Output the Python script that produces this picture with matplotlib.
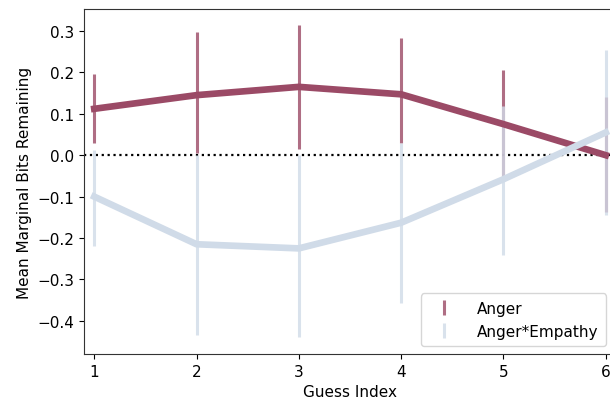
import matplotlib
matplotlib.use("Agg")
import matplotlib.pyplot as plt
import numpy as np

guess = [1, 2, 3, 4, 5, 6]
anger_mean = [0.112, 0.145, 0.165, 0.147, 0.075, 0.000]
anger_low = [0.030, 0.005, 0.015, 0.030, -0.055, -0.138]
anger_high = [0.197, 0.298, 0.315, 0.283, 0.205, 0.140]
emp_mean = [-0.100, -0.215, -0.225, -0.163, -0.058, 0.055]
emp_low = [-0.220, -0.435, -0.440, -0.357, -0.240, -0.145]
emp_high = [0.012, 0.000, 0.000, 0.030, 0.120, 0.255]

c_anger = "#9b4a66"
c_emp = "#d0dbe8"

fig = plt.figure(figsize=(6.10, 4.02), dpi=100)
ax = fig.add_axes([84 / 610, 47 / 402, (616 - 84) / 610, (355 - 10) / 402])

ax.axhline(0, color="black", linestyle=":", linewidth=1.6, zorder=1)

x = np.array(guess)
a_m = np.array(anger_mean)
e_m = np.array(emp_mean)
a_err = [a_m - np.array(anger_low), np.array(anger_high) - a_m]
e_err = [e_m - np.array(emp_low), np.array(emp_high) - e_m]

ha = ax.errorbar(x, a_m, yerr=a_err, fmt="none", ecolor=c_anger, elinewidth=2.2,
                 alpha=0.8, label="Anger", zorder=2)
he = ax.errorbar(x, e_m, yerr=e_err, fmt="none", ecolor=c_emp, elinewidth=2.2,
                 alpha=0.8, label="Anger*Empathy", zorder=2)
ax.plot(x, a_m, color=c_anger, linewidth=4.8, zorder=3)
ax.plot(x, e_m, color=c_emp, linewidth=4.8, zorder=3)

ax.set_xlim(0.9, 6.1)
ax.set_ylim(-0.48, 0.353)
ax.set_xticks(guess)
ax.set_yticks([-0.4, -0.3, -0.2, -0.1, 0.0, 0.1, 0.2, 0.3])
ax.tick_params(labelsize=11)
ax.set_xlabel("Guess Index", fontsize=11)
ax.set_ylabel("Mean Marginal Bits Remaining", fontsize=11)
for s in ax.spines.values():
    s.set_color("#333333")

ax.legend(handles=[ha, he], loc="lower right", fontsize=11,
          bbox_to_anchor=(0.9965, 0.0), borderaxespad=0.5, borderpad=0.5,
          handletextpad=1.2)

fig.savefig("out.png", dpi=100)
